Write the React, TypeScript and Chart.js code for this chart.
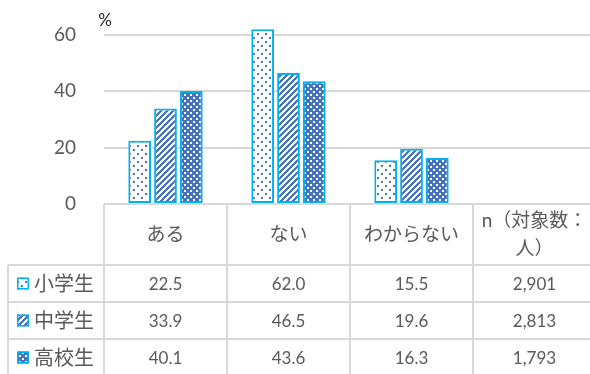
import React, { useEffect, useRef } from 'react';
import { Chart, registerables } from 'chart.js';

Chart.register(...registerables);

// Categories (header lines of the table) and series
const categories: string[][] = [['ある'], ['ない'], ['わからない'], ['n（対象数：', '人）']];
const seriesNames = ['小学生', '中学生', '高校生'];
const elementary = [22.5, 62.0, 15.5];
const juniorHigh = [33.9, 46.5, 19.6];
const highSchool = [40.1, 43.6, 16.3];
const respondents = ['2,901', '2,813', '1,793'];
const yMax = 60;
const yStep = 20;
const unitLabel = '%';

const FONT = "Lato, 'Noto Sans CJK JP', sans-serif";
const TEXT = '#595959';
const GRID = '#d9d9d9';
const BLUE = '#4673bf';
const CYAN = '#00b0f0';

function makePattern(kind: 'lightDots' | 'stripes' | 'darkDots'): CanvasPattern {
  const c = document.createElement('canvas');
  const size = kind === 'lightDots' ? 8 : 6;
  c.width = size;
  c.height = size;
  const g = c.getContext('2d')!;
  if (kind === 'lightDots') {
    g.fillStyle = '#ffffff';
    g.fillRect(0, 0, size, size);
    g.fillStyle = BLUE;
    g.fillRect(1, 1, 2, 2);
    g.fillRect(5, 5, 2, 2);
  } else if (kind === 'darkDots') {
    g.fillStyle = BLUE;
    g.fillRect(0, 0, size, size);
    g.fillStyle = '#ffffff';
    g.fillRect(1, 1, 2, 2);
    g.fillRect(4, 4, 2, 2);
  } else {
    g.fillStyle = '#ffffff';
    g.fillRect(0, 0, size, size);
    g.fillStyle = BLUE;
    for (let y = 0; y < size; y++) {
      for (let x = 0; x < size; x++) {
        if ((x + y) % 6 < 3) g.fillRect(x, y, 1, 1);
      }
    }
  }
  return g.createPattern(c, 'repeat')!;
}

const HEADER_H = 61;
const ROW_H = 37;
const TABLE_LEFT = 8;

export default function App() {
  const ref = useRef<HTMLCanvasElement | null>(null);

  useEffect(() => {
    if (!ref.current) return;
    const patterns = [makePattern('lightDots'), makePattern('stripes'), makePattern('darkDots')];
    const seriesValues = [elementary, juniorHigh, highSchool];

    const tablePlugin = {
      id: 'dataTable',
      afterDraw(chart: Chart) {
        const ctx = chart.ctx;
        const area = chart.chartArea;
        const n = categories.length;
        const colW = (area.right - area.left) / n;
        const top = area.bottom;
        const rowsTop = top + HEADER_H;
        const bottom = rowsTop + ROW_H * seriesNames.length;
        const right = chart.width;
        ctx.save();

        // "%" unit label above the axis
        ctx.fillStyle = '#1f1f1f';
        ctx.font = `17px ${FONT}`;
        ctx.textAlign = 'center';
        ctx.textBaseline = 'middle';
        ctx.fillText(unitLabel, area.left + 1, 21);

        // grid lines of the table
        ctx.strokeStyle = GRID;
        ctx.lineWidth = 2;
        ctx.beginPath();
        ctx.moveTo(area.left, top);
        ctx.lineTo(right, top);
        for (let r = 0; r <= seriesNames.length; r++) {
          const y = rowsTop + r * ROW_H;
          ctx.moveTo(TABLE_LEFT, y);
          ctx.lineTo(right, y);
        }
        ctx.moveTo(TABLE_LEFT, rowsTop);
        ctx.lineTo(TABLE_LEFT, bottom);
        for (let i = 0; i < n; i++) {
          const x = Math.round(area.left + i * colW);
          ctx.moveTo(x, top);
          ctx.lineTo(x, bottom);
        }
        ctx.stroke();

        // header texts
        ctx.fillStyle = TEXT;
        ctx.font = `19px ${FONT}`;
        ctx.textAlign = 'center';
        ctx.textBaseline = 'middle';
        categories.forEach((lines, i) => {
          const cx = area.left + (i + 0.5) * colW;
          const cy = top + HEADER_H / 2;
          const lh = 28;
          lines.forEach((line, k) => {
            ctx.fillText(line, cx, cy + (k - (lines.length - 1) / 2) * lh);
          });
        });

        // rows
        seriesNames.forEach((name, r) => {
          const cy = rowsTop + (r + 0.5) * ROW_H;
          // legend key
          const kx = 17;
          const ks = 12;
          ctx.fillStyle = patterns[r];
          ctx.fillRect(kx, cy - ks / 2, ks, ks);
          ctx.strokeStyle = CYAN;
          ctx.lineWidth = 1.5;
          ctx.strokeRect(kx + 0.75, cy - ks / 2 + 0.75, ks - 1.5, ks - 1.5);
          ctx.fillStyle = TEXT;
          ctx.font = `20px ${FONT}`;
          ctx.textAlign = 'left';
          ctx.fillText(name, 34, cy + 1);

          ctx.font = `17px ${FONT}`;
          ctx.textAlign = 'center';
          const vals = seriesValues[r];
          vals.forEach((v, i) => {
            ctx.fillText(v.toFixed(1), area.left + (i + 0.5) * colW, cy + 1);
          });
          ctx.fillText(respondents[r], area.left + (n - 0.5) * colW, cy + 1);
        });
        ctx.restore();
      },
    };

    const padData = (arr: number[]) => [...arr, null];

    const chart = new Chart(ref.current, {
      type: 'bar',
      data: {
        labels: categories.map((l) => l.join('')),
        datasets: seriesValues.map((vals, i) => ({
          label: seriesNames[i],
          data: padData(vals),
          backgroundColor: patterns[i],
          borderColor: CYAN,
          borderWidth: 2,
          borderSkipped: false,
          categoryPercentage: 0.63,
          barPercentage: 0.88,
          clip: false,
        })),
      },
      options: {
        animation: false,
        responsive: false,
        devicePixelRatio: 1,
        layout: { padding: { top: 35, bottom: 170, left: 0, right: 0 } },
        plugins: {
          legend: { display: false },
          tooltip: { enabled: false },
        },
        scales: {
          x: { display: false },
          y: {
            min: 0,
            max: yMax,
            ticks: {
              stepSize: yStep,
              padding: 28,
              color: TEXT,
              font: { family: FONT, size: 19 },
            },
            grid: { color: GRID, lineWidth: 2, drawTicks: false },
            border: { display: false },
            afterFit(scale: any) {
              scale.width = 104;
              scale.paddingTop = 0;
              scale.paddingBottom = 0;
            },
          },
        },
      },
      plugins: [tablePlugin],
    });
    return () => chart.destroy();
  }, []);

  return (
    <div
      style={{
        position: 'fixed',
        left: 0,
        top: 0,
        width: 590,
        height: 374,
        overflow: 'hidden',
        background: '#ffffff',
      }}
    >
      <canvas ref={ref} width={596} height={374} />
    </div>
  );
}
